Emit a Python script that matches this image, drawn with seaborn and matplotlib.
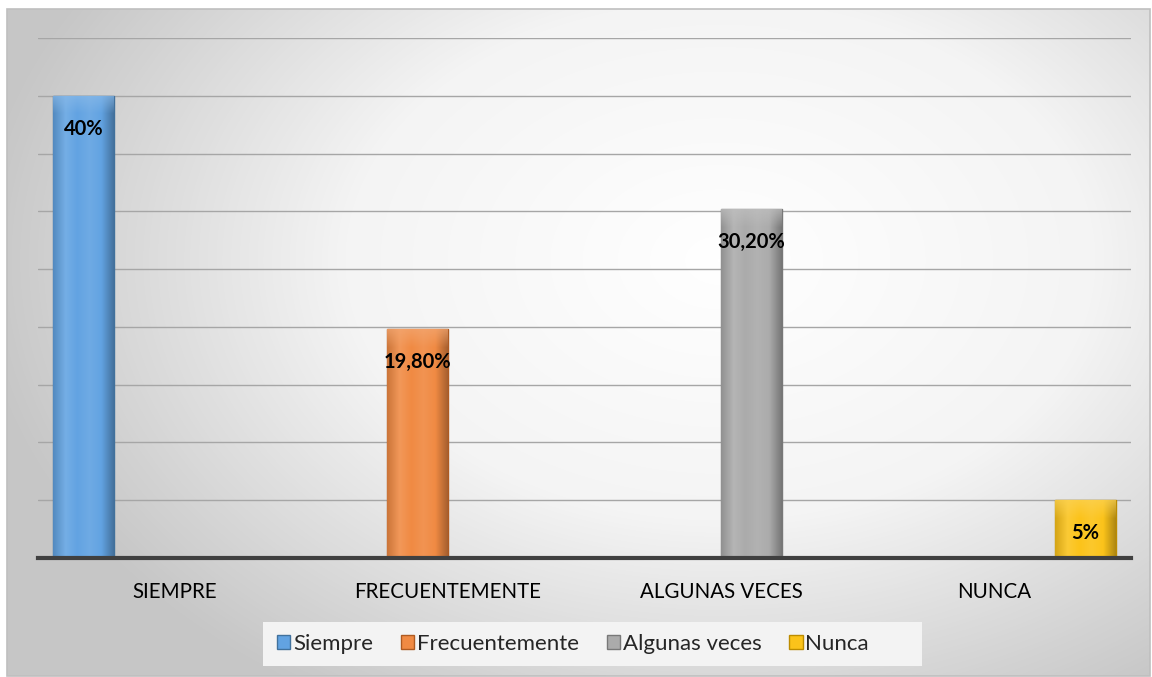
import numpy as np
import pandas as pd
import matplotlib
matplotlib.use("Agg")
import matplotlib.pyplot as plt
from matplotlib.colors import LinearSegmentedColormap, to_rgb
from matplotlib.patches import Rectangle
import seaborn as sns

categorias = ["SIEMPRE", "FRECUENTEMENTE", "ALGUNAS VECES", "NUNCA"]
series = ["Siempre", "Frecuentemente", "Algunas veces", "Nunca"]
valores = [40.0, 19.8, 30.2, 5.0]
etiquetas = ["40%", "19,80%", "30,20%", "5%"]
colores = ["#62a3e2", "#f08a43", "#ababab", "#fbc31a"]
bordes = ["#41719c", "#ae5a21", "#787878", "#bc8c00"]

df = pd.DataFrame({"categoria": categorias, "serie": series, "valor": valores})

sns.set_theme(style="white")
plt.rcParams["font.family"] = ["Lato", "DejaVu Sans"]

W, H = 1152, 677
fig = plt.figure(figsize=(W / 100, H / 100), dpi=100)
fig.patch.set_facecolor("white")

# radial gradient background of chart area
x0, y0, x1, y1 = 7, 9, 1150, 676
bg = fig.add_axes([x0 / W, 1 - y1 / H, (x1 - x0) / W, (y1 - y0) / H], zorder=-2)
yy, xx = np.mgrid[y0:y1, x0:x1]
r = np.sqrt(((xx - 720) / 750.0) ** 2 + ((yy - 260) / 520.0) ** 2)
r = np.clip(r, 0, 1)
cmap = LinearSegmentedColormap.from_list("g", ["#ffffff", "#f4f4f4", "#c6c6c6"])
bg.imshow(r, cmap=cmap, aspect="auto", vmin=0, vmax=1)
bg.axis("off")
fig.patches.append(Rectangle((x0 / W, 1 - y1 / H), (x1 - x0) / W, (y1 - y0) / H,
                             transform=fig.transFigure, fill=False,
                             edgecolor="#bfbfbf", linewidth=1.2, zorder=5))

ax = fig.add_axes([38 / W, 1 - 558 / H, (1131 - 38) / W, (558 - 38) / H])
ax.set_facecolor("none")

sns.barplot(data=df, x="categoria", y="valor", hue="serie", order=categorias,
            hue_order=series, palette=colores, width=0.89, dodge=True,
            saturation=1, legend=False, ax=ax)


def sombra(c, f):
    c = np.array(to_rgb(c))
    if f < 1:
        return tuple(c * f)
    return tuple(c + (1 - c) * (f - 1))


for cont, color, borde, txt in zip(ax.containers, colores, bordes, etiquetas):
    for bar in cont:
        h = bar.get_height()
        if np.isnan(h) or h == 0:
            continue
        bar.set_edgecolor(borde)
        bar.set_linewidth(1.0)
        bar.set_zorder(3)
        bx, bw = bar.get_x(), bar.get_width()
        # bevel-like horizontal shading
        cm = LinearSegmentedColormap.from_list(
            "b", [sombra(color, 0.85), sombra(color, 1.12), color,
                  sombra(color, 1.08), color, sombra(color, 0.7)])
        im = ax.imshow(np.linspace(0, 1, 64)[None, :], cmap=cm, aspect="auto",
                       extent=(bx, bx + bw, 0, h), zorder=3.5,
                       interpolation="bilinear")
        im.set_clip_path(bar)
        # soft top bevel
        cap = LinearSegmentedColormap.from_list(
            "c", [(*sombra(color, 1.25), 0.0), (*sombra(color, 1.25), 0.7)])
        im2 = ax.imshow(np.linspace(0, 1, 32)[:, None], cmap=cap, aspect="auto",
                        extent=(bx, bx + bw, h - 1.6, h), origin="lower",
                        zorder=3.6, interpolation="bilinear")
        im2.set_clip_path(bar)
        cx = bx + bw / 2
        ax.text(cx, h - 2.85, txt, ha="center", va="center",
                fontsize=14.5, fontweight="bold", color="black", zorder=4)

ax.set_xlim(-0.5, 3.5)
ax.set_ylim(0, 45)
ax.set_yticks(np.arange(0, 46, 5))
ax.set_yticklabels([])
ax.tick_params(axis="y", length=0)
ax.tick_params(axis="x", length=0, pad=17, labelsize=14.8, colors="black")
ax.yaxis.grid(True, color="#a6a6a6", linewidth=1)
ax.set_axisbelow(True)
ax.set_xlabel("")
ax.set_ylabel("")
for s in ["top", "right", "left"]:
    ax.spines[s].set_visible(False)
ax.spines["bottom"].set_color("#404040")
ax.spines["bottom"].set_linewidth(3)
ax.spines["bottom"].set_zorder(5)

# legend
fig.patches.append(Rectangle((263 / W, 1 - 666 / H), (922 - 263) / W, 44 / H,
                             transform=fig.transFigure, facecolor="#f3f3f3",
                             edgecolor="none", zorder=1))
handles = [Rectangle((0, 0), 1, 1, facecolor=c, edgecolor=b, linewidth=1)
           for c, b in zip(colores, bordes)]
fig.legend(handles, series, loc="center", bbox_to_anchor=(573 / W, 1 - 644 / H),
           ncol=4, frameon=False, fontsize=16, handlelength=0.6,
           handleheight=0.6, handletextpad=0.12, columnspacing=1.25)

fig.savefig("out.png", dpi=100)
